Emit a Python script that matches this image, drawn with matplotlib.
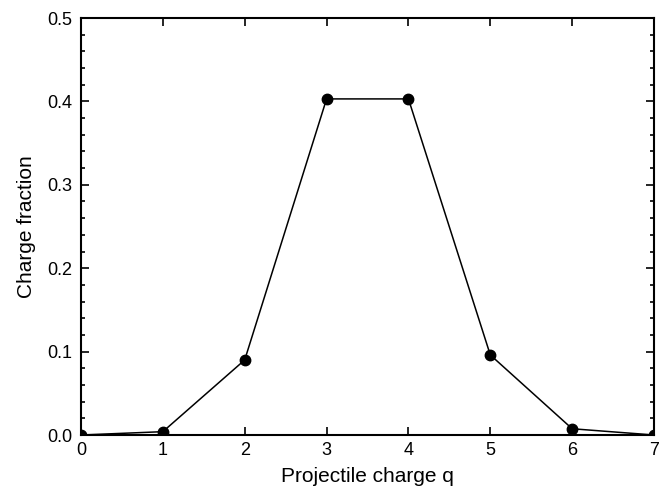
import matplotlib
matplotlib.use("Agg")
import matplotlib.pyplot as plt
from matplotlib.ticker import MultipleLocator, FormatStrFormatter

plt.rcParams['font.family'] = ['Liberation Sans', 'DejaVu Sans']

charge_q = [0, 1, 2, 3, 4, 5, 6, 7]
fraction = [0.0, 0.004, 0.090, 0.403, 0.403, 0.096, 0.0075, 0.0]

fig = plt.figure(figsize=(6.71, 4.95), dpi=100)
ax = fig.add_axes([0.1207, 0.1212, 0.854, 0.8424])
ax.plot(charge_q, fraction, color='black', lw=1.1, marker='o', ms=7.5, clip_on=True)
ax.set_xlim(0, 7)
ax.set_ylim(0, 0.5)
ax.xaxis.set_major_locator(MultipleLocator(1))
ax.yaxis.set_major_locator(MultipleLocator(0.1))
ax.yaxis.set_minor_locator(MultipleLocator(0.02))
ax.yaxis.set_major_formatter(FormatStrFormatter('%.1f'))
ax.tick_params(which='both', direction='in', top=True, right=True, labelsize=13, width=1.2)
ax.tick_params(which='major', length=6)
ax.tick_params(which='minor', length=3)
ax.tick_params(axis='x', pad=5)
ax.tick_params(axis='y', pad=6)
for s in ax.spines.values():
    s.set_linewidth(1.5)
ax.set_xlabel('Projectile charge q', fontsize=15, labelpad=6)
ax.set_ylabel('Charge fraction', fontsize=15, labelpad=8)
fig.savefig('out.png', dpi=100)
